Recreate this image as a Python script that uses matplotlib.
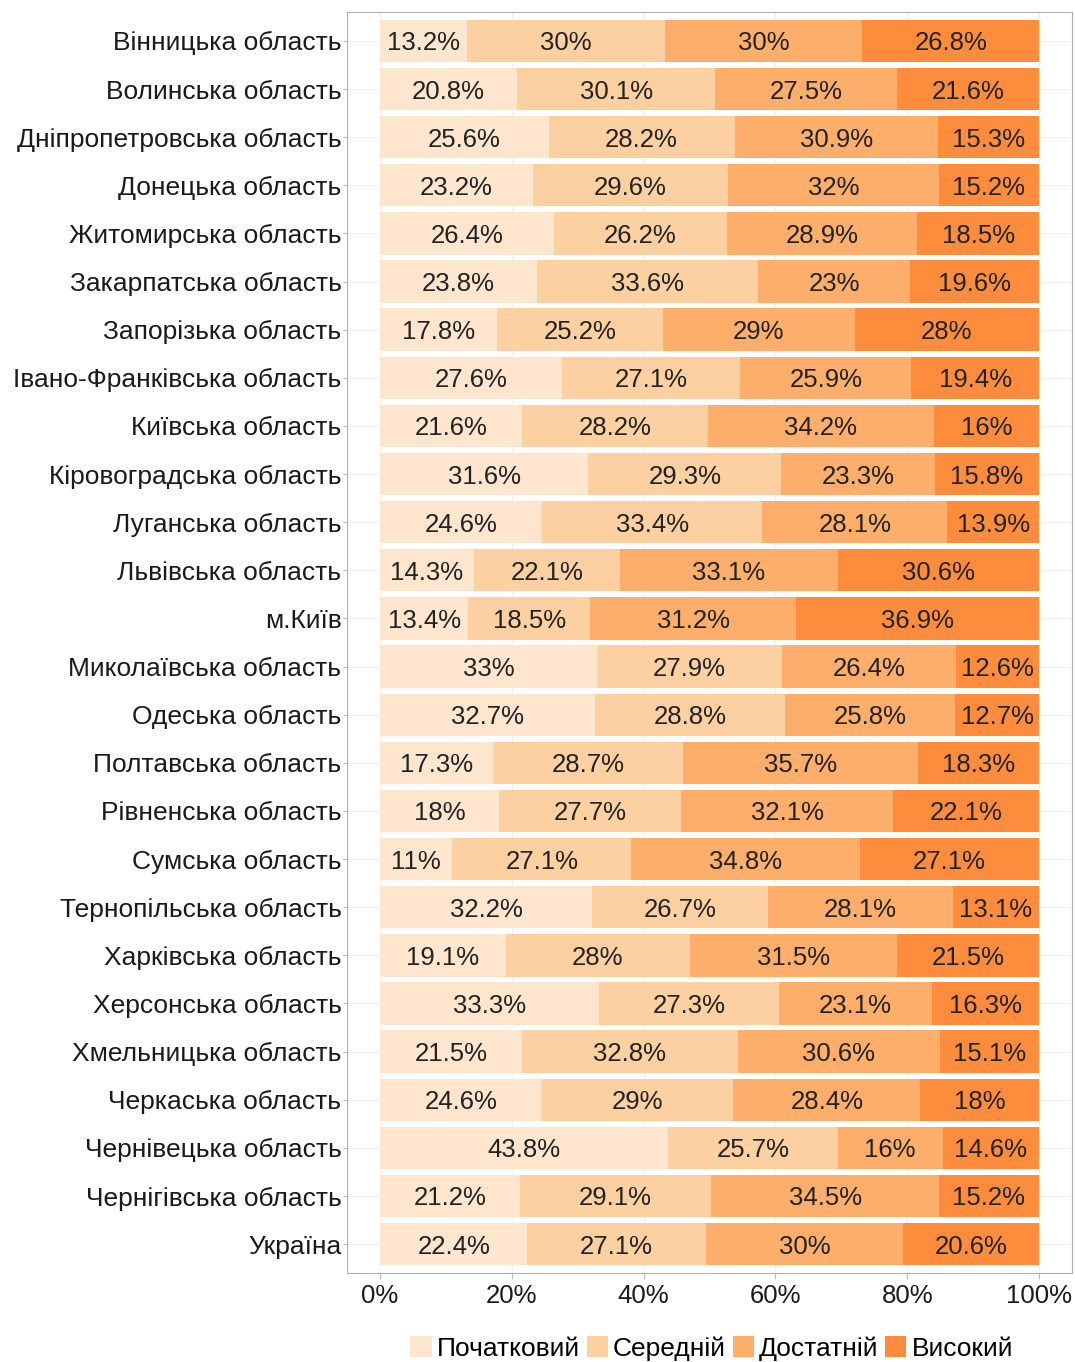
import numpy as np
import matplotlib
matplotlib.use("Agg")
import matplotlib.pyplot as plt
from matplotlib.patches import Patch
from matplotlib.ticker import FuncFormatter

plt.rcParams['font.family'] = ['Liberation Sans', 'DejaVu Sans']

regions = [
    "Вінницька область", "Волинська область", "Дніпропетровська область",
    "Донецька область", "Житомирська область", "Закарпатська область",
    "Запорізька область", "Івано-Франківська область", "Київська область",
    "Кіровоградська область", "Луганська область", "Львівська область",
    "м.Київ", "Миколаївська область", "Одеська область",
    "Полтавська область", "Рівненська область", "Сумська область",
    "Тернопільська область", "Харківська область", "Херсонська область",
    "Хмельницька область", "Черкаська область", "Чернівецька область",
    "Чернігівська область", "Україна",
]

levels = ["Початковий", "Середній", "Достатній", "Високий"]

pochatkovyi = [13.2, 20.8, 25.6, 23.2, 26.4, 23.8, 17.8, 27.6, 21.6, 31.6, 24.6, 14.3, 13.4,
               33, 32.7, 17.3, 18, 11, 32.2, 19.1, 33.3, 21.5, 24.6, 43.8, 21.2, 22.4]
serednii = [30, 30.1, 28.2, 29.6, 26.2, 33.6, 25.2, 27.1, 28.2, 29.3, 33.4, 22.1, 18.5,
            27.9, 28.8, 28.7, 27.7, 27.1, 26.7, 28, 27.3, 32.8, 29, 25.7, 29.1, 27.1]
dostatnii = [30, 27.5, 30.9, 32, 28.9, 23, 29, 25.9, 34.2, 23.3, 28.1, 33.1, 31.2,
             26.4, 25.8, 35.7, 32.1, 34.8, 28.1, 31.5, 23.1, 30.6, 28.4, 16, 34.5, 30]
vysokyi = [26.8, 21.6, 15.3, 15.2, 18.5, 19.6, 28, 19.4, 16, 15.8, 13.9, 30.6, 36.9,
           12.6, 12.7, 18.3, 22.1, 27.1, 13.1, 21.5, 16.3, 15.1, 18, 14.6, 15.2, 20.6]

colors = ["#FEE6CE", "#FDD0A2", "#FDAE6B", "#FD8D3C"]

values = np.array([pochatkovyi, serednii, dostatnii, vysokyi])
shares = values / values.sum(axis=0)

fig = plt.figure(figsize=(10.75, 13.62), dpi=100)
ax = fig.add_axes([347 / 1075, 1 - 1273 / 1362, 725 / 1075, 1261 / 1362])

y = np.arange(len(regions))
left = np.zeros(len(regions))
for i, lvl in enumerate(levels):
    ax.barh(y, shares[i], left=left, height=0.88, color=colors[i], zorder=2)
    for j in range(len(regions)):
        txt = f"{values[i, j]:g}%"
        ax.text(left[j] + shares[i, j] / 2, y[j], txt, ha='center', va='center_baseline',
                fontsize=18.5, color='#222222', zorder=3)
    left += shares[i]

ax.set_ylim(len(regions) - 0.4, -0.6)
ax.set_xlim(-0.05, 1.05)
ax.set_yticks(y)
ax.set_yticklabels(regions, fontsize=19, color='#1a1a1a')
ax.set_xticks([0, 0.2, 0.4, 0.6, 0.8, 1.0])
ax.xaxis.set_major_formatter(FuncFormatter(lambda v, _: f"{v * 100:.0f}%"))
ax.tick_params(axis='x', labelsize=18.5, labelcolor='#1a1a1a', length=4, color='#bbbbbb', pad=4)
ax.tick_params(axis='y', length=3, color='#bbbbbb', pad=1)
ax.grid(True, color='#f0f0f0', linewidth=0.8, zorder=0)
ax.set_axisbelow(True)
for s in ax.spines.values():
    s.set_color('#b0b0b0')
    s.set_linewidth(0.8)

handles = [Patch(facecolor=c, edgecolor='none') for c in colors]
fig.legend(handles, levels, loc='center', bbox_to_anchor=(0.662, 0.010), ncol=4,
           frameon=False, fontsize=19, handlelength=0.8, handleheight=0.8,
           handletextpad=0.2, columnspacing=0.25)

fig.savefig("out.png", dpi=100)
